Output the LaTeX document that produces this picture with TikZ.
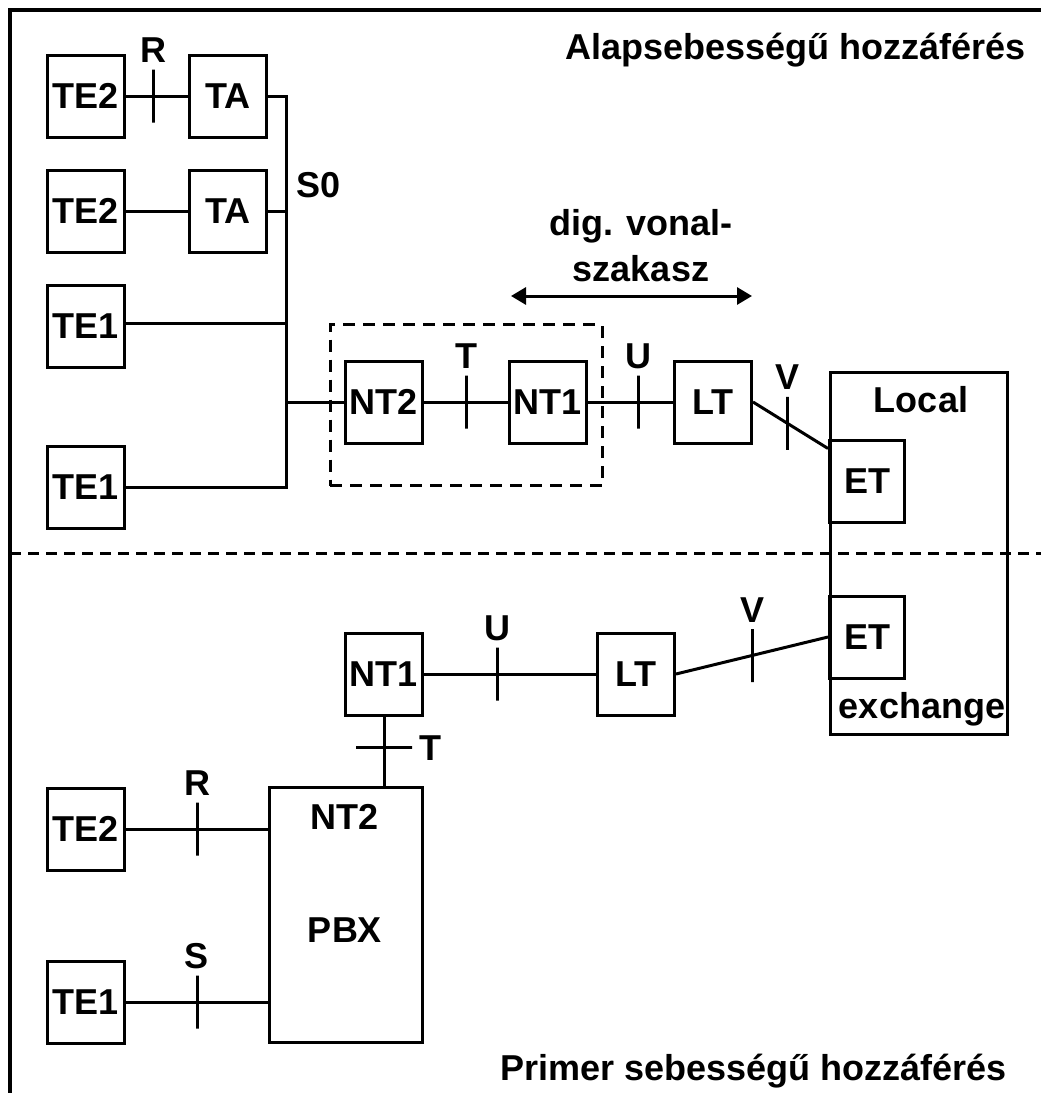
\documentclass[tikz,border=0pt]{standalone}
\usepackage{fontspec}
\setmainfont{Liberation Sans}
\usetikzlibrary{positioning, arrows.meta}
\tikzset{
every picture/.style={line width=3pt}, % all lines are heavy
every node/.style={font=\bfseries\fontsize{36}{46}\selectfont}, % bold sans labels
unit/.style={draw, minimum width=77pt, minimum height=82pt, inner sep=0pt}, % sets the properties for each functional unit
tick/.style={draw, minimum width=0pt, minimum height=53pt, inner sep=0pt,
  label={[inner sep=0pt, label distance=4pt]above:#1}}, % reference point on a line
htick/.style={draw, minimum width=56pt, minimum height=0pt, inner sep=0pt,
  label={[inner sep=0pt, label distance=4pt]right:#1}}, % reference point on a vertical line
plain/.style={inner sep=0pt}, % free text
}

\begin{document}
\begin{tikzpicture}[x=1pt, y=-1pt, line width=3pt]
        \useasboundingbox (0,0) rectangle (1041,1093);
        \draw[line width=3.5pt] (10,1093) -- (10,10) -- (1041,10);
        \draw[dash pattern=on 11pt off 7pt] (10,553) -- (1041,553);

        % basic rate access
        \node[plain, anchor=base east] (basic) at (1027,59) {Alapsebességű hozzáférés};
        \node[unit] (te2a) at (86,96) {TE2};
        \node[unit] (ta1)  at (228,96) {TA};
        \node[unit] (te2b) at (86,211) {TE2};
        \node[unit] (ta2)  at (228,211) {TA};
        \node[unit] (te1a) at (86,326) {TE1};
        \node[unit] (te1b) at (86,487) {TE1};
        \coordinate (s0) at (286,487);
        \node[plain] (s0text) at (319,185) {S0};

        \node[unit] (nt2a) at (384,402) {NT2};
        \node[unit] (nt1a) at (548,402) {NT1};
        \node[draw, dash pattern=on 12pt off 8pt, minimum width=272pt,
              minimum height=161pt] (ntbox) at (466,405) {};
        \node[unit] (lt1)  at (713,402) {LT};

        \node[draw, minimum width=177pt, minimum height=362pt] (le) at (919,553) {};
        \node[plain, anchor=base] (local) at (921,412) {Local};
        \node[plain, anchor=base] (exch) at (922,718) {exchange};
        \node[unit, minimum width=75pt] (et1) at (867,481) {ET};
        \node[unit, minimum width=75pt] (et2) at (867,637) {ET};

        \coordinate (dl) at (511,296);
        \coordinate (dr) at (752,296);
        \node[plain, align=center] (dig) at (641,246) {dig. vonal-\\szakasz};
        \draw[{Triangle[length=15pt,width=17pt]}-{Triangle[length=15pt,width=17pt]}] (dl) -- (dr);

        \draw (te2a) -- node[tick=R, pos=0.45] {} (ta1);
        \draw (te2b) -- (ta2);
        \draw (ta1) -| (s0) -- (te1b);
        \draw (ta2) -- (ta2 -| s0);
        \draw (te1a.east |- 0,323) -- (s0 |- 0,323);
        \draw (s0 |- nt2a) -- (nt2a);
        \draw (nt2a) -- node[tick=T] {} (nt1a);
        \draw (nt1a) -- node[tick=U, pos=0.59] {} (lt1);
        \draw (lt1.east) -- node[tick=V, pos=0.46] {} ([yshift=-10pt]et1.north west);

        % primary rate access
        \node[unit] (nt1b) at (384,674) {NT1};
        \node[unit] (lt2)  at (636,674) {LT};
        \node[draw, minimum width=153pt, minimum height=255pt] (pbx) at (346,915) {};
        \node[plain] (nt2b) at (345,817) {NT2};
        \node[plain] (pbxtext) at (345,930) {PBX};
        \node[unit] (te2c) at (86,829) {TE2};
        \node[unit] (te1c) at (86,1002) {TE1};
        \node[plain, anchor=base east] (primer) at (1008,1080) {Primer sebességű hozzáférés};

        \draw (nt1b) -- node[tick=U, pos=0.43] {} (lt2);
        \draw (lt2.east) -- node[tick=V] {} (et2.west);
        \draw (nt1b) -- node[htick=T, pos=0.45] {} (nt1b |- pbx.north);
        \draw (te2c) -- node[tick=R] {} (te2c -| pbx.west);
        \draw (te1c) -- node[tick=S] {} (te1c -| pbx.west);
    \end{tikzpicture}
\end{document}
